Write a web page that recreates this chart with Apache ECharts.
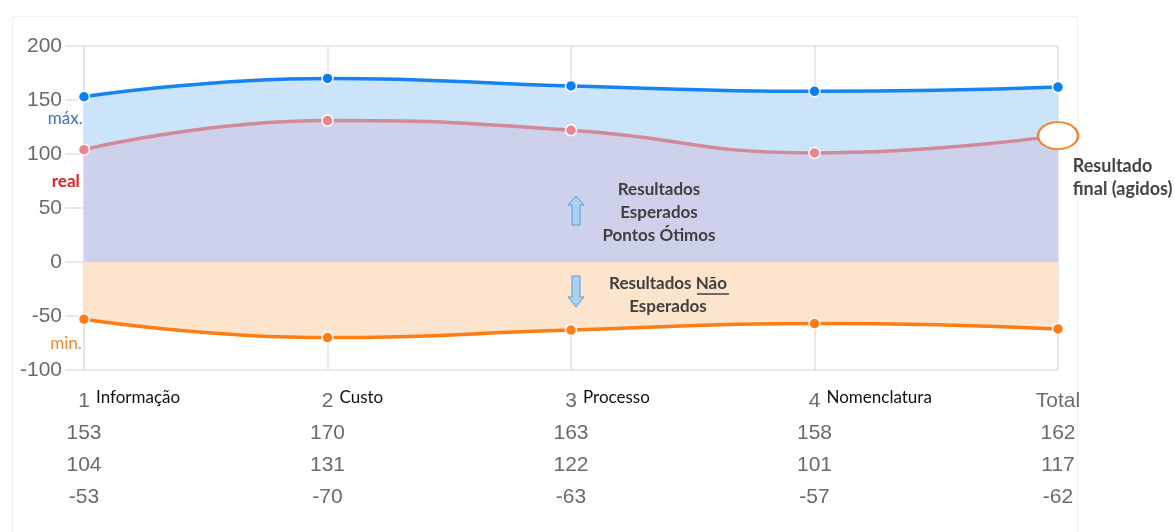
<!DOCTYPE html>
<html>
<head>
<meta charset="utf-8">
<script src="https://cdn.jsdelivr.net/npm/echarts@6/dist/echarts.min.js"></script>
<style>
  html, body { margin: 0; padding: 0; background: #fff; }
  #wrap { position: relative; width: 1175px; height: 532px; }
  #frame { position: absolute; left: 12px; top: 16px; width: 1066px; height: 530px;
           border: 1px solid #f1f1f1; box-sizing: border-box; }
  #chart { position: absolute; left: 0; top: 0; width: 1175px; height: 532px; }
</style>
</head>
<body>
<div id="wrap">
  <div id="frame"></div>
  <div id="chart"></div>
</div>
<script>
// Axis categories: step number and step name
const stepNumbers = ['1', '2', '3', '4', 'Total'];
const stepNames = ['Informação', 'Custo', 'Processo', 'Nomenclatura', ''];

// Series values per step
const maxValues = [153, 170, 163, 158, 162];
const realValues = [104, 131, 122, 101, 117];
const minValues = [-53, -70, -63, -57, -62];

// Value axis range
const yMin = -100, yMax = 200, yStep = 50;

const numFont = '"Liberation Sans", Arial, sans-serif';
const textFont = 'Lato, "Open Sans", sans-serif';
const gridColor = '#e2e2e2';

const chart = echarts.init(document.getElementById('chart'), null, { renderer: 'canvas' });

function firstLabel(text, color, pos, weight) {
  return {
    show: true, formatter: text, position: pos, align: 'right', verticalAlign: 'middle',
    color: color, fontSize: 17, fontFamily: textFont, fontWeight: weight || 'normal'
  };
}

function withFirstLabel(values, label) {
  return values.map((v, i) => i === 0 ? { value: v, label: label } : v);
}

const option = {
  animation: false,
  backgroundColor: 'transparent',
  grid: { left: 84, right: 117, top: 46, bottom: 162 },
  xAxis: [
    {
      type: 'category', data: stepNumbers, boundaryGap: false,
      axisLine: { show: true, lineStyle: { color: '#d6d6d6', width: 1.5 } },
      axisTick: { show: true, length: 17, lineStyle: { color: gridColor } },
      splitLine: { show: true, lineStyle: { color: gridColor, width: 1.5 } },
      axisLabel: {
        interval: 0, margin: 15, lineHeight: 32,
        fontSize: 21, fontFamily: numFont, color: '#6b6b6b',
        formatter: (val, idx) => [val, maxValues[idx], realValues[idx], minValues[idx]].join('\n')
      }
    },
    {
      type: 'category', data: stepNames, boundaryGap: false, position: 'bottom',
      axisLine: { show: false }, axisTick: { show: false }, splitLine: { show: false },
      axisLabel: {
        interval: 0, margin: 18, align: 'left', padding: [0, 0, 0, 12],
        fontSize: 17, fontFamily: textFont, color: '#111', lineHeight: 20
      }
    }
  ],
  yAxis: {
    type: 'value', min: yMin, max: yMax, interval: yStep,
    axisLine: { show: true, lineStyle: { color: gridColor, width: 1.5 } },
    axisTick: { show: true, length: 19, lineStyle: { color: gridColor, width: 1.5 } },
    splitLine: { show: true, lineStyle: { color: gridColor, width: 1.5 } },
    axisLabel: { margin: 22, fontSize: 21, fontFamily: numFont, color: '#6b6b6b' }
  },
  series: [
    {
      name: 'máx.', type: 'line', smooth: true, z: 3,
      data: withFirstLabel(maxValues, firstLabel('máx.', '#3b6fd1', [5, 28])),
      symbol: 'circle', symbolSize: 11,
      lineStyle: { color: '#1583f3', width: 3.5 },
      itemStyle: { color: '#0a7ef5', borderColor: '#fff', borderWidth: 1.5 },
      areaStyle: { color: '#cbe4f9', opacity: 1 }
    },
    {
      name: 'real', type: 'line', smooth: true, z: 4,
      data: withFirstLabel(realValues, firstLabel('real', '#ea1d27', [2, 38], 'bold')),
      symbol: 'circle', symbolSize: 11,
      lineStyle: { color: '#d2899a', width: 3.5 },
      itemStyle: { color: '#e9858f', borderColor: '#fff', borderWidth: 1.5 },
      areaStyle: { color: '#cdd1eb', opacity: 1 },
      markPoint: {
        symbol: 'circle', symbolSize: [40, 27],
        itemStyle: { color: '#fff', borderColor: '#f2842a', borderWidth: 2 },
        label: {
          show: true, formatter: 'Resultado\nfinal (agidos)', position: [36, 33],
          align: 'left', verticalAlign: 'top',
          fontSize: 18, fontWeight: 'bold', fontFamily: textFont, color: '#444', lineHeight: 23
        },
        data: [{ coord: [stepNumbers.length - 1, realValues[realValues.length - 1]] }]
      }
    },
    {
      name: 'min.', type: 'line', smooth: true, z: 3,
      data: withFirstLabel(minValues, firstLabel('min.', '#f58a2f', [4, 31])),
      symbol: 'circle', symbolSize: 11,
      lineStyle: { color: '#ff7d12', width: 3.5 },
      itemStyle: { color: '#ff7d12', borderColor: '#fff', borderWidth: 1.5 },
      areaStyle: { color: '#fde4cd', opacity: 1 }
    }
  ],
  graphic: [
    {
      type: 'text', x: 659, y: 178, z: 10,
      style: {
        text: 'Resultados\nEsperados\nPontos Ótimos', align: 'center', verticalAlign: 'top',
        fill: '#404040', font: 'bold 17px ' + textFont, lineHeight: 23
      }
    },
    {
      type: 'polygon', z: 10,
      shape: { points: [[576, 196], [584, 205], [580, 205], [580, 225], [572, 225], [572, 205], [568, 205]] },
      style: { fill: '#a8d1f2', stroke: '#5b9bd5', lineWidth: 1 }
    },
    {
      type: 'text', x: 668, y: 272, z: 10,
      style: {
        text: 'Resultados Não\nEsperados', align: 'center', verticalAlign: 'top',
        fill: '#404040', font: 'bold 17px ' + textFont, lineHeight: 23
      }
    },
    {
      type: 'line', z: 10,
      shape: { x1: 697, y1: 294, x2: 729, y2: 294 },
      style: { stroke: '#404040', lineWidth: 1.5 }
    },
    {
      type: 'polygon', z: 10,
      shape: { points: [[572, 276], [580, 276], [580, 297], [584, 297], [576, 307], [568, 297], [572, 297]] },
      style: { fill: '#a8d1f2', stroke: '#5b9bd5', lineWidth: 1 }
    }
  ]
};

chart.setOption(option);
</script>
</body>
</html>
